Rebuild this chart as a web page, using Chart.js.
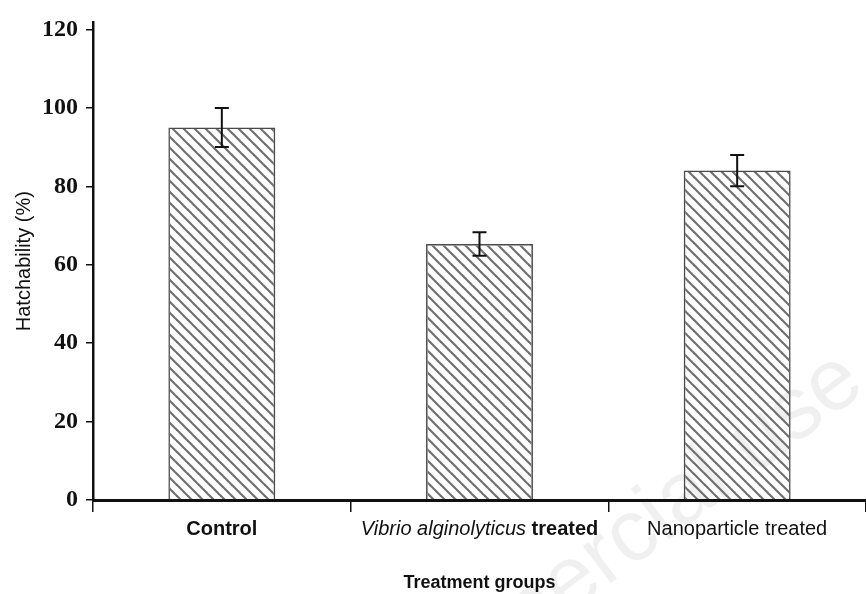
<!DOCTYPE html>
<html>
<head>
<meta charset="utf-8">
<script src="https://cdn.jsdelivr.net/npm/chart.js@4.4.1/dist/chart.umd.min.js"></script>
<style>
  body { margin: 0; background: #fff; }
  #wrap { width: 866px; height: 594px; position: relative; }
</style>
</head>
<body>
<div id="wrap"><canvas id="myChart"></canvas></div>
<script>
// data
const groups = ['Control', 'Vibrio alginolyticus treated', 'Nanoparticle treated'];
const hatchability = [95, 65.3, 84];
const errors = [5, 3, 4];
const yTicks = [0, 20, 40, 60, 80, 100, 120];

// how each category label is split into styled pieces
const labelParts = [
  [['bold', 'Control']],
  [['italic', 'Vibrio alginolyticus '], ['bold', 'treated']],
  [['normal', 'Nanoparticle treated']]
];

// diagonal hatch fill
function makeHatch() {
  const s = 11;
  const c = document.createElement('canvas');
  c.width = s; c.height = s;
  const g = c.getContext('2d');
  g.strokeStyle = '#707070';
  g.lineWidth = 2.2;
  [-s, 0, s].forEach(dx => {
    g.beginPath();
    g.moveTo(dx - 1, -1);
    g.lineTo(dx + s + 1, s + 1);
    g.stroke();
  });
  return g.createPattern(c, 'repeat');
}

const sans = '"Liberation Sans", Arial, sans-serif';

const errorBars = {
  id: 'errorBars',
  afterDatasetsDraw(chart) {
    const ctx = chart.ctx;
    const meta = chart.getDatasetMeta(0);
    const y = chart.scales.y;
    ctx.save();
    ctx.strokeStyle = '#111';
    ctx.lineWidth = 2;
    meta.data.forEach((bar, i) => {
      const top = y.getPixelForValue(hatchability[i] + errors[i]);
      const bot = y.getPixelForValue(hatchability[i] - errors[i]);
      const x = bar.x;
      ctx.beginPath();
      ctx.moveTo(x, top); ctx.lineTo(x, bot);
      ctx.moveTo(x - 7, top); ctx.lineTo(x + 7, top);
      ctx.moveTo(x - 7, bot); ctx.lineTo(x + 7, bot);
      ctx.stroke();
    });
    ctx.restore();
  }
};

const catLabels = {
  id: 'catLabels',
  afterDraw(chart) {
    const ctx = chart.ctx;
    const x = chart.scales.x;
    ctx.save();
    ctx.fillStyle = '#111';
    ctx.textBaseline = 'alphabetic';
    ctx.textAlign = 'left';
    labelParts.forEach((parts, i) => {
      let w = 0;
      parts.forEach(p => { ctx.font = p[0] + ' 20px ' + sans; w += ctx.measureText(p[1]).width; });
      let cx = x.getPixelForValue(i) - w / 2;
      parts.forEach(p => {
        ctx.font = p[0] + ' 20px ' + sans;
        ctx.fillText(p[1], cx, 535);
        cx += ctx.measureText(p[1]).width;
      });
    });
    ctx.restore();
  }
};

const watermark = {
  id: 'watermark',
  beforeDraw(chart) {
    const ctx = chart.ctx;
    ctx.save();
    ctx.font = '88px ' + sans;
    ctx.fillStyle = 'rgba(0,0,0,0.06)';
    const a = -37 * Math.PI / 180;
    const pre = ctx.measureText('Non-comme').width;
    const ox = 606 - pre * Math.cos(a);
    const oy = 587 - pre * Math.sin(a);
    ctx.translate(ox, oy);
    ctx.rotate(a);
    ctx.textAlign = 'left';
    ctx.fillText('Non-commercial use', 0, 0);
    ctx.restore();
  }
};

const data = {
  labels: groups,
  datasets: [{
    data: hatchability,
    backgroundColor: makeHatch(),
    borderColor: '#4a4a4a',
    borderWidth: 1.5,
    barPercentage: 0.415,
    categoryPercentage: 1
  }]
};

const config = {
  type: 'bar',
  data: data,
  options: {
    responsive: true,
    maintainAspectRatio: false,
    animation: false,
    layout: { padding: { top: 15, right: 0, left: 0, bottom: 0 } },
    plugins: { legend: { display: false }, tooltip: { enabled: false } },
    scales: {
      x: {
        offset: true,
        afterFit: s => { s.height = 94; },
        grid: { display: true, drawOnChartArea: false, offset: true, tickLength: 12, color: '#111', lineWidth: 1.5 },
        border: { color: '#111', width: 3 },
        ticks: { display: false },
        title: {
          display: true,
          text: 'Treatment groups',
          color: '#111',
          font: { family: sans, size: 18, weight: 'bold' },
          padding: { top: 0, bottom: 0 }
        }
      },
      y: {
        min: 0,
        max: 121.8,
        afterFit: s => { s.width = 93; },
        afterBuildTicks: s => { s.ticks = yTicks.map(v => ({ value: v })); },
        grid: { drawOnChartArea: false, tickLength: 7, color: '#111', lineWidth: 1.5 },
        border: { color: '#111', width: 2.5 },
        ticks: {
          color: '#111',
          padding: 8,
          font: { family: '"Liberation Serif", "Times New Roman", serif', size: 24, weight: 'bold' }
        },
        title: {
          display: true,
          text: 'Hatchability (%)',
          color: '#111',
          font: { family: sans, size: 20 },
          padding: { top: 12, bottom: 0 }
        }
      }
    }
  },
  plugins: [watermark, errorBars, catLabels]
};

const myChart = new Chart(document.getElementById('myChart'), config);
</script>
</body>
</html>
